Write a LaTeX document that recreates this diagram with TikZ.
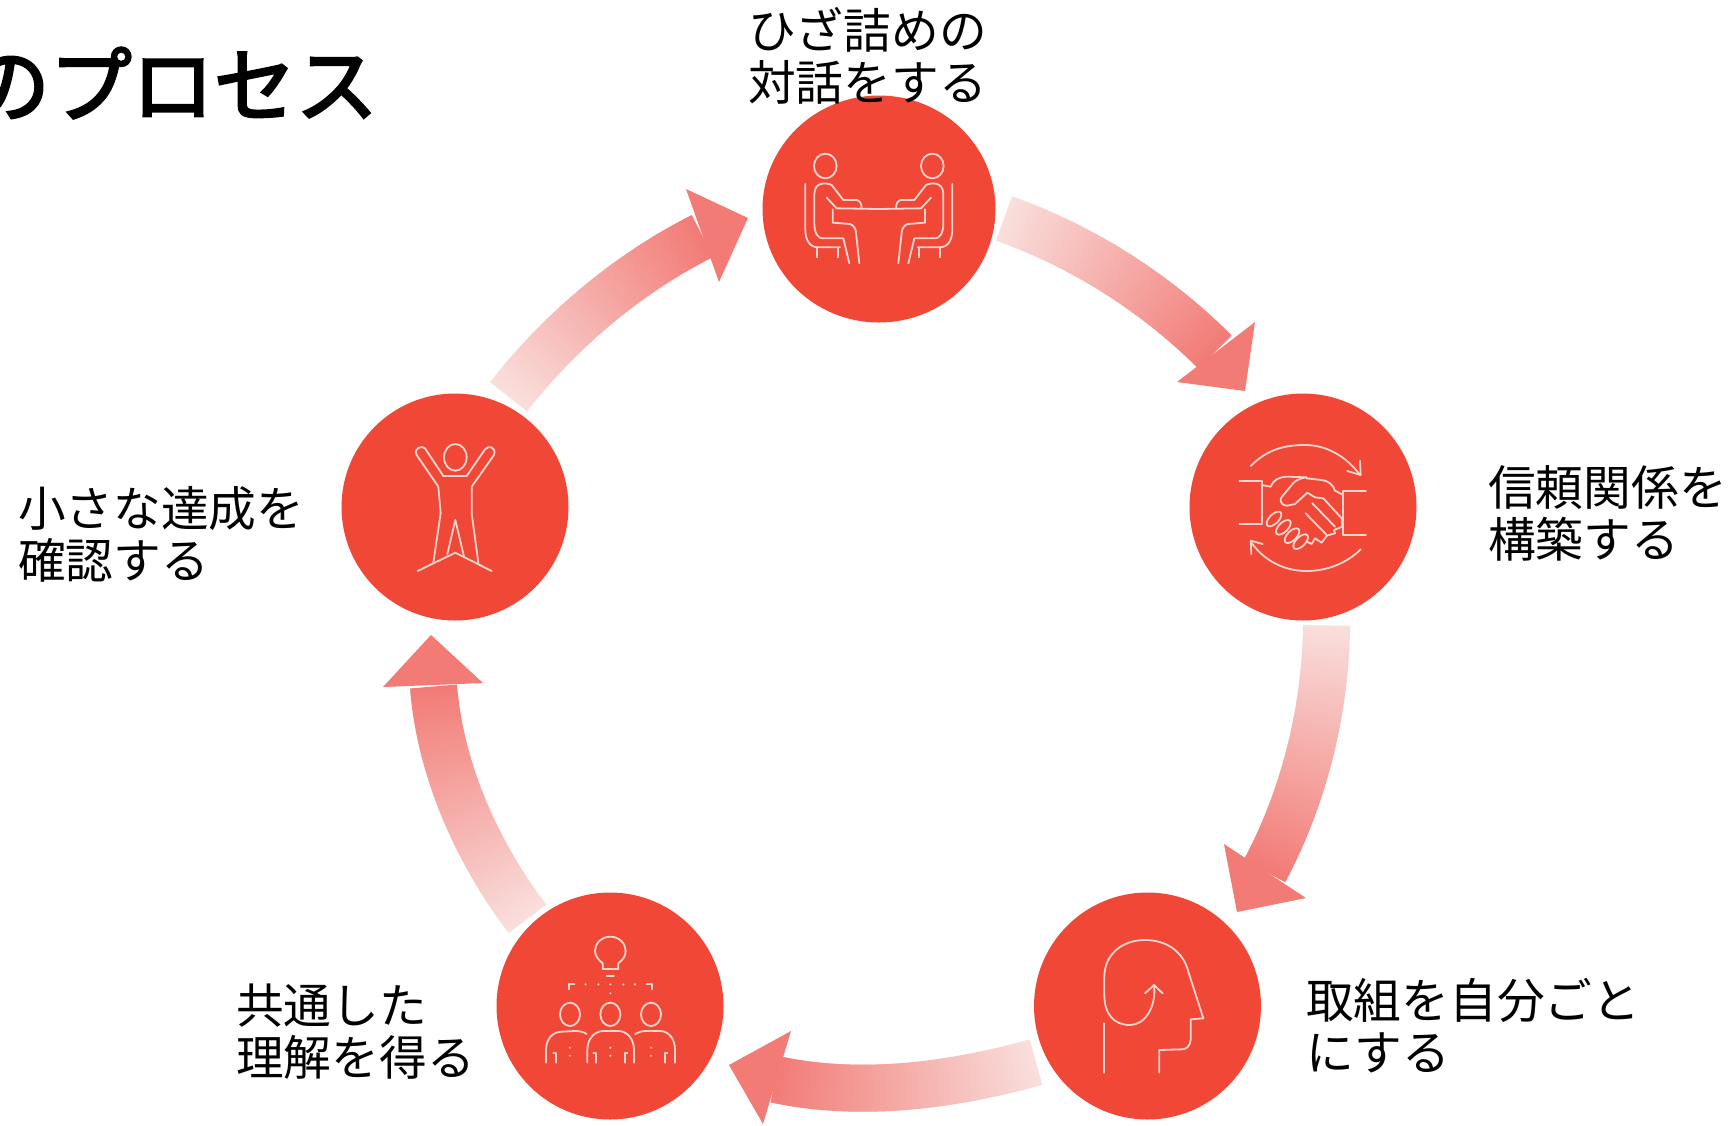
\documentclass[tikz,border=0pt]{standalone}
\usepackage{fontspec}
\usetikzlibrary{decorations.markings,backgrounds,shapes.geometric}
\newfontfamily\cjk{Noto Sans CJK JP}
\newfontfamily\cjktitle[FakeBold=3]{Noto Sans CJK JP}
\definecolor{circfill}{HTML}{F04736}
\definecolor{iconline}{HTML}{FAD6CF}
\definecolor{bandstart}{HTML}{F9DFDD}
\definecolor{bandend}{HTML}{F27B76}
\tikzset{
  stepcircle/.style={circle,fill=circfill,minimum size=227pt,inner sep=0pt,draw=none},
  topcircle/.style={ellipse,fill=circfill,minimum width=233pt,minimum height=227pt,inner sep=0pt,draw=none},
  labeltext/.style={anchor=west,align=left,inner sep=0pt,font=\cjk\fontsize{47.7}{52}\selectfont,text=black},
  titletext/.style={anchor=east,inner sep=0pt,font=\cjktitle\fontsize{82}{90}\selectfont,text=black},
  icon/.style={draw=iconline,line width=1.8pt,line cap=round,line join=round,fill=none},
  icondot/.style={fill=iconline,draw=none},
  headfill/.style={fill=bandend,draw=none},
  gradband/.style={decorate,decoration={markings,
    mark=between positions 0 and 1 step 2pt with {%
      \pgfmathsetmacro\pp{min(100,100*(\pgfkeysvalueof{/pgf/decoration/mark info/distance from start}/\pgfdecoratedpathlength))}%
      \fill[bandend!\pp!bandstart] (-1.6pt,-23.5pt) rectangle (1.6pt,23.5pt);}}},
  zoomA/.style={shift={(#1)},x=0.33333pt,y=-0.33333pt},
}
\newcommand{\sitterhalf}{%
  \draw[icon] (0,0) ellipse [x radius=34,y radius=37];
  \draw[icon] (-60,54) -- (-60,190) .. controls (-60,225) and (-45,244) .. (-22,244) -- (44,244);
  \draw[icon] (-24,244) -- (-24,274) (39,244) -- (39,274);
  \draw[icon] (94,102) -- (54,102) -- (19,57) .. controls (5,50) and (-33,45) .. (-33,85) -- (-33,172) .. controls (-33,205) and (-20,217) .. (-8,217) -- (54,217) -- (72,292);
  \draw[icon] (4,95) -- (34,127) -- (161,129);
  \draw[icon] (54,102) -- (94,102) .. controls (106,104) and (110,118) .. (108,128);
  \draw[icon] (22,130) -- (22,170) -- (74,174) .. controls (86,178) and (92,190) .. (92,200) -- (102,292);
}
\begin{document}
\begin{tikzpicture}[x=1pt,y=-1pt]
\useasboundingbox (0,0) rectangle (1735,1125);
% step circles
\node[topcircle] (top) at (879,209) {};
\node[stepcircle] (right) at (1303,507) {};
\node[stepcircle] (lowright) at (1147.5,1006) {};
\node[stepcircle] (lowleft) at (610,1006) {};
\node[stepcircle] (left) at (455,507) {};
% arrow geometry
\coordinate (t1) at (1005.5,219); \coordinate (ca1) at (1083.5,247); \coordinate (cb1) at (1156,293); \coordinate (m1) at (1215,352);
\coordinate (ba1) at (1255,322); \coordinate (tip1) at (1245,391); \coordinate (bb1) at (1177,382);
\coordinate (t2) at (1326.5,627); \coordinate (ca2) at (1325.5,710); \coordinate (cb2) at (1304,797); \coordinate (m2) at (1265,870);
\coordinate (ba2) at (1306,898); \coordinate (tip2) at (1237,912); \coordinate (bb2) at (1224,844);
\coordinate (t3) at (1034.5,1062.5); \coordinate (ca3) at (951.5,1085.5); \coordinate (cb3) at (861,1097.5); \coordinate (m3) at (776,1079.5);
\coordinate (ba3) at (791,1031); \coordinate (tip3) at (729,1065); \coordinate (bb3) at (763,1124);
\coordinate (t4) at (526.5,917.5); \coordinate (ca4) at (476.5,851.5); \coordinate (cb4) at (440,769); \coordinate (m4) at (433.5,686.5);
\coordinate (ba4) at (383,687); \coordinate (tip4) at (431,635); \coordinate (bb4) at (483,683);
\coordinate (t5) at (509.5,395.5); \coordinate (ca5) at (561,330); \coordinate (cb5) at (627.5,274); \coordinate (m5) at (701.5,236.5);
\coordinate (ba5) at (686,189); \coordinate (tip5) at (748,218); \coordinate (bb5) at (719,282);
\begin{scope}[on background layer]
\foreach \i in {1,...,5} {
  \path[gradband] (t\i) .. controls (ca\i) and (cb\i) .. (m\i);
  \fill[headfill] (ba\i) -- (tip\i) -- (bb\i) -- cycle;
}
\end{scope}
% icon 1
\begin{scope}[zoomA={700+125.33,166}]
\sitterhalf
\end{scope}
\begin{scope}[shift={(700+232.33,166)},x=-0.33333pt,y=-0.33333pt]
\sitterhalf
\end{scope}
% icon 2
\begin{scope}[zoomA={1150,370}]
\draw[icon] (302,288) .. controls (350,240) and (400,225) .. (465,225) .. controls (530,225) and (590,260) .. (630,315);
\draw[icon] (592,303) -- (632,315) -- (630,272);
\draw[icon] (632,538) .. controls (590,580) and (530,603) .. (470,603) .. controls (400,603) and (340,570) .. (302,515);
\draw[icon] (338,522) -- (302,512) -- (304,552);
\draw[icon] (268,332) -- (335,332) -- (335,462) -- (268,462);
\draw[icon] (648,362) -- (580,362) -- (580,495) -- (648,495);
\draw[icon] (335,345) -- (362,350) .. controls (370,330) and (385,322) .. (410,320) -- (470,322);
\draw[icon] (470,322) .. controls (445,325) and (432,335) .. (425,345) -- (392,385) .. controls (390,400) and (400,407) .. (412,407) -- (435,402) -- (472,368) -- (495,382) -- (520,385) -- (575,445) -- (577,470) -- (552,480) -- (555,490) -- (530,497);
\draw[icon] (470,325) -- (515,330) .. controls (535,332) and (550,345) .. (555,362) -- (580,375);
\draw[icon] (487,400) -- (555,470) (467,430) -- (530,495) (530,497) -- (515,518) -- (495,505) -- (485,522) -- (470,515);
\foreach \px/\py in {372/447,400/472,426/497,452/515}
  \draw[icon,rotate around={45:(\px,\py)}] (\px,\py) ellipse [x radius=28,y radius=14];
\end{scope}
% icon 3
\begin{scope}[zoomA={1020,880}]
\draw[icon] (402,315) .. controls (410,380) and (375,435) .. (330,435) .. controls (280,435) and (253,400) .. (253,345) -- (253,290) .. controls (253,225) and (305,180) .. (375,180) .. controls (440,180) and (490,215) .. (505,275) -- (550,415) -- (512,418) -- (512,480) .. controls (510,498) and (500,508) .. (485,508) -- (418,510) -- (418,578);
\draw[icon] (253,430) -- (253,578);
\draw[icon] (375,340) -- (402,315) -- (428,340);
\end{scope}
% icon 4
\begin{scope}[zoomA={480,880}]
\draw[icon] (368,267) -- (368,250) .. controls (352,237) and (345,225) .. (345,212) .. controls (345,190) and (365,170) .. (391,170) .. controls (417,170) and (437,190) .. (437,212) .. controls (437,228) and (430,238) .. (415,250) -- (415,267) -- cycle;
\draw[icon] (380,287) -- (402,287);
\draw[icon] (268,328) -- (268,313) -- (283,313) (515,328) -- (515,313) -- (500,313);
\foreach \px/\py in {317/313,355/313,391/313,430/313,465/313,391/340,270/503,270/527,391/503,391/527,513/503,513/527}
  \fill[icondot] (\px,\py) circle [radius=3.5];
\foreach \px in {270,391,513}
  \draw[icon] (\px,403) ellipse [x radius=30,y radius=35];
\draw[icon] (322,548) -- (322,510) .. controls (322,475) and (345,453) .. (370,453) -- (415,453) .. controls (440,453) and (462,475) .. (462,510) -- (462,548);
\draw[icon] (198,548) -- (198,510) .. controls (198,475) and (220,455) .. (245,455) -- (285,453) .. controls (300,453) and (312,456) .. (320,462);
\draw[icon] (465,462) .. controls (475,456) and (485,453) .. (500,453) -- (540,453) .. controls (565,453) and (585,475) .. (585,510) -- (585,548);
\draw[icon] (228,548) -- (228,518) -- (220,518);
\draw[icon] (347,548) -- (347,518) -- (340,518);
\draw[icon] (435,548) -- (435,518) -- (442,518);
\draw[icon] (555,548) -- (555,518) -- (562,518);
\end{scope}
% icon 5
\begin{scope}[zoomA={330,380}]
\draw[icon] (376,232) ellipse [x radius=34,y radius=40];
\draw[icon] (340,288) -- (410,288) -- (465,208) .. controls (475,195) and (500,200) .. (492,225) -- (425,320) -- (425,400) -- (445,548);
\draw[icon] (340,288) -- (285,205) .. controls (275,195) and (250,205) .. (260,225) -- (325,320) -- (332,400) -- (310,548);
\draw[icon] (352,522) -- (376,420) -- (402,530);
\draw[icon] (263,573) -- (376,518) -- (485,573);
\end{scope}
% labels
\node[titletext] (title) at (378,83) {のプロセス};
\node[labeltext] (l1) at (748,56) {ひざ詰めの\\対話をする};
\node[labeltext] (l2) at (1488,513) {信頼関係を\\構築する};
\node[labeltext] (l3) at (1306,1026) {取組を自分ごと\\にする};
\node[labeltext] (l4) at (236,1032) {共通した\\理解を得る};
\node[labeltext] (l5) at (18,534) {小さな達成を\\確認する};
\end{tikzpicture}
\end{document}
